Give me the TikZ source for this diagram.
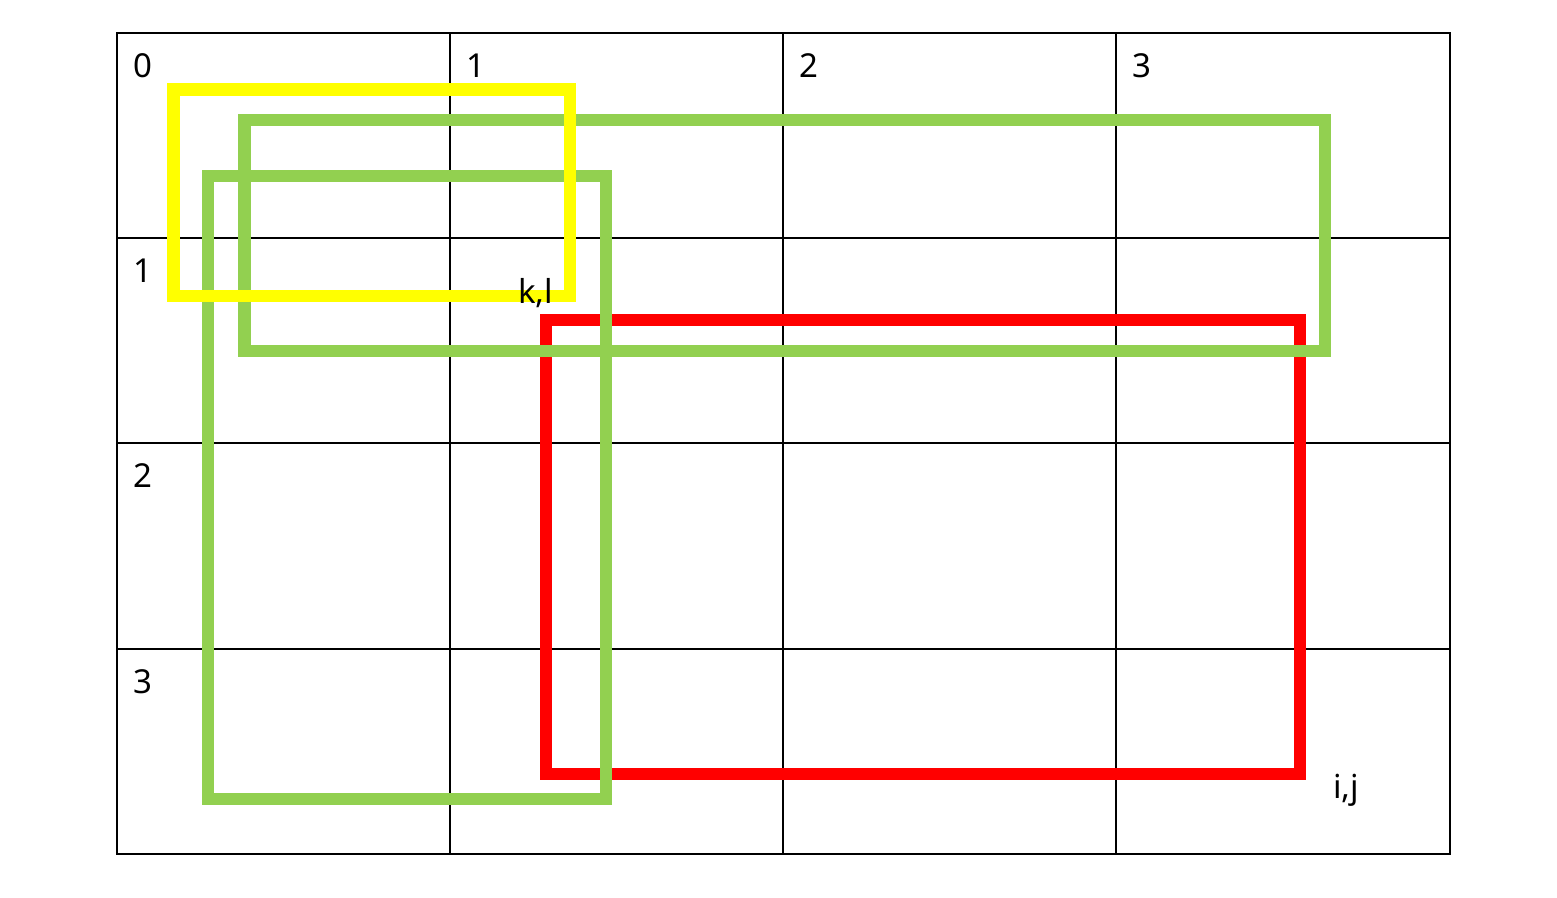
\documentclass[tikz,border=0pt]{standalone}
\usepackage{fontspec}
\setmainfont{Noto Sans}
\definecolor{myyellow}{HTML}{FFFF00}
\definecolor{mygreen}{HTML}{92D050}
\definecolor{myred}{HTML}{FF0000}
\tikzset{
  gridline/.style={line width=2pt, black},
  box/.style={line width=12.5pt},
  lbl/.style={anchor=base west, inner sep=0pt, font=\fontsize{33}{36}\selectfont}
}
\begin{document}
\begin{tikzpicture}[x=1pt,y=-1pt]
\useasboundingbox (0,0) rectangle (1557,897);
% grid
\draw[gridline] (117,33) rectangle (1450,854);
\foreach \x in {450,783,1116} \draw[gridline] (\x,33) -- (\x,854);
\foreach \y in {238,443,649} \draw[gridline] (117,\y) -- (1450,\y);
% boxes
\draw[box, myred] (546,320) rectangle (1300,774);
\draw[box, mygreen] (244.5,120) rectangle (1325,351);
\draw[box, mygreen] (208,176) rectangle (606,799);
\draw[box, myyellow] (173.5,89.5) rectangle (570,296);
% labels
\node[lbl] (c0) at (133,77) {0};
\node[lbl] (c1) at (466,77) {1};
\node[lbl] (c2) at (799,77) {2};
\node[lbl] (c3) at (1132,77) {3};
\node[lbl] (r1) at (133,282) {1};
\node[lbl] (r2) at (133,487) {2};
\node[lbl] (r3) at (133,693) {3};
\node[lbl] (kl) at (518,303) {k,l};
\node[lbl] (ij) at (1333,798) {i,j};
\end{tikzpicture}
\end{document}
